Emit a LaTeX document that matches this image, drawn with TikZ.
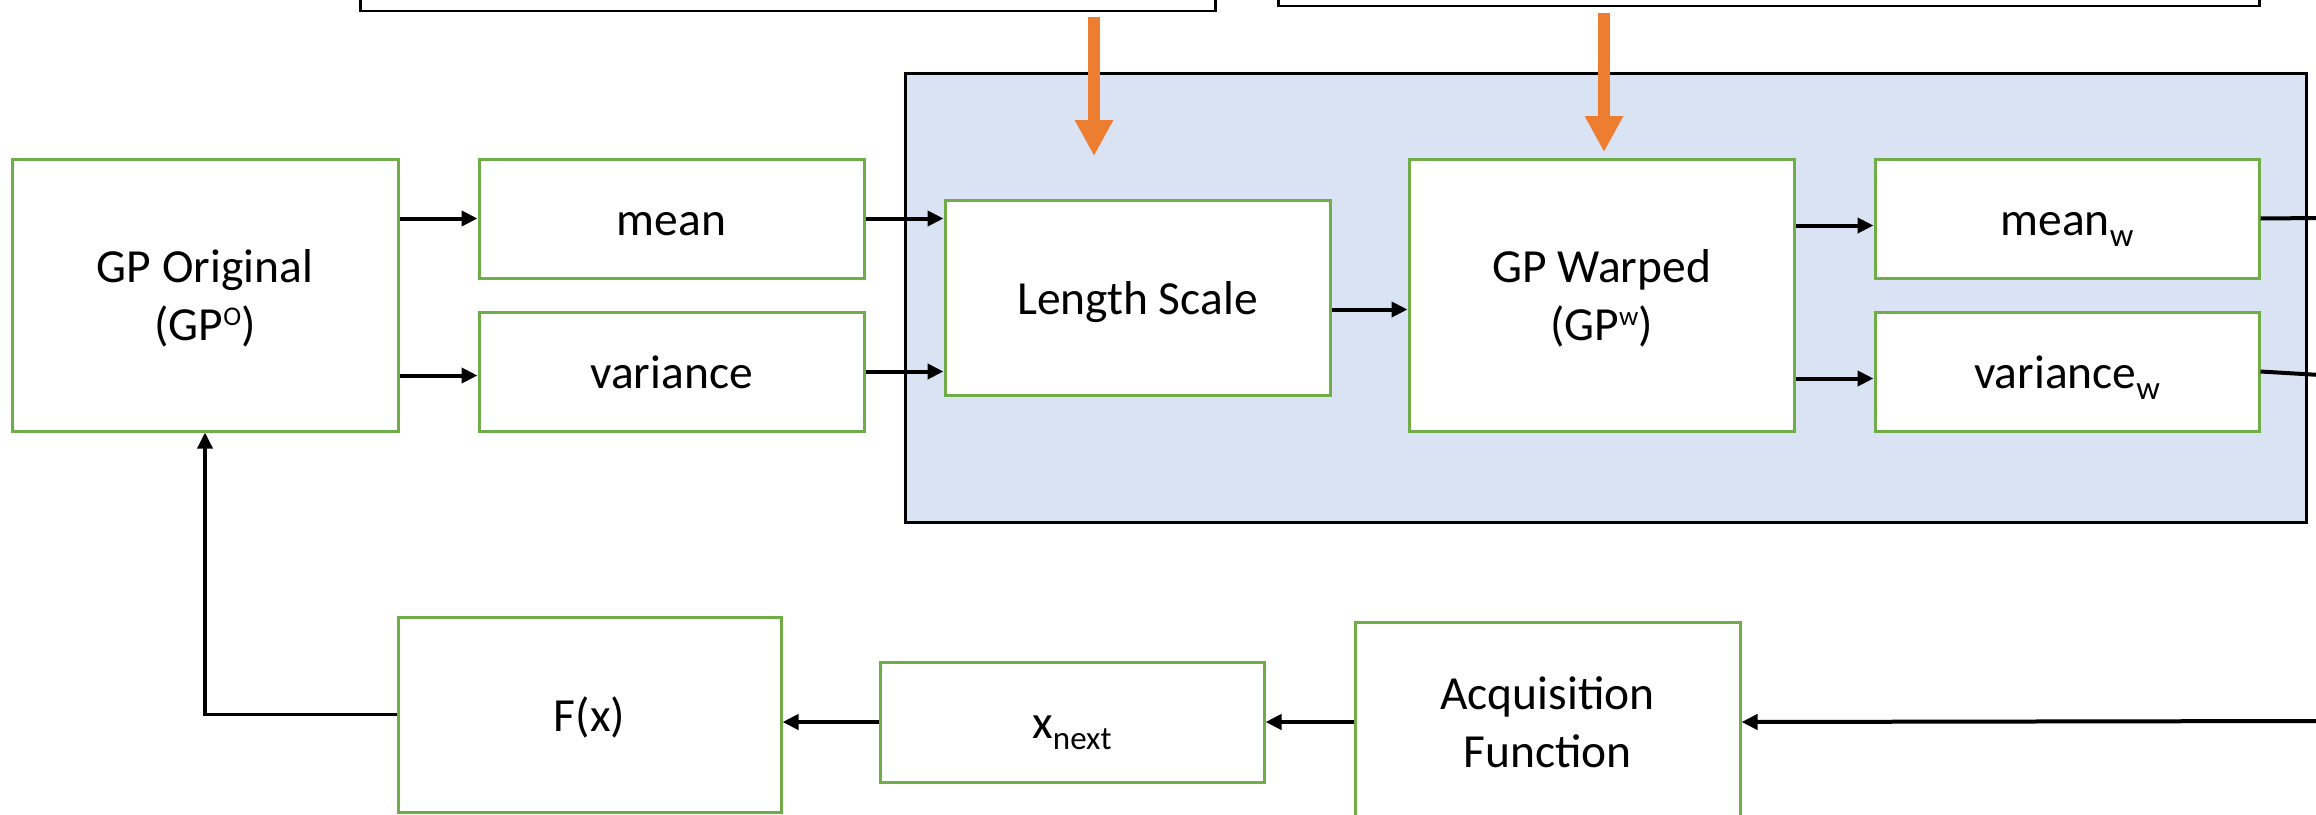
\documentclass[tikz,border=0pt]{standalone}
\usepackage{fontspec}
\setmainfont{Carlito}
\usetikzlibrary{arrows.meta}
\definecolor{boxgreen}{HTML}{70AD47}
\definecolor{panelblue}{HTML}{DAE3F3}
\definecolor{orangearr}{HTML}{ED7D31}
\newcommand\ppstrut{\rule[-0.26em]{0pt}{1.22em}}
\newcommand\psub[1]{\raisebox{-11pt}{\fontsize{33}{33}\selectfont #1}}
\newcommand\psup[1]{\raisebox{15pt}{\fontsize{27}{27}\selectfont #1}}
\begin{document}
\begin{tikzpicture}[x=1pt,y=-1pt,
  box/.style={draw=boxgreen, line width=3pt, fill=white, align=center, inner sep=0pt,
    font=\fontsize{47.5}{58}\selectfont},
  topbox/.style={draw=black, line width=2.5pt, fill=white, inner sep=0pt},
  panel/.style={draw=black, line width=3pt, fill=panelblue, inner sep=0pt},
  arr/.style={draw=black, line width=4pt, -{Triangle[length=16pt,width=15pt]}},
  plain/.style={draw=black, line width=4pt},
  oarr/.style={draw=orangearr, line width=12pt, -{Triangle[length=36pt,width=36pt]}}]
\useasboundingbox (0,0) rectangle (2316,814);
\clip (0,0) rectangle (2316,814);
% top boxes (cut off)
\node[topbox, minimum width=855pt, minimum height=120pt, anchor=south west] (ta) at (359,12) {};
\node[topbox, minimum width=981pt, minimum height=120pt, anchor=south west] (tb) at (1277,7) {};
% panel
\node[panel, minimum width=1401pt, minimum height=449pt, anchor=north west] (panel) at (904,72) {};
% boxes
\node[box, minimum width=386pt, minimum height=272pt] (gpo) at (205,295) {\ppstrut GP Original\\\ppstrut(GP\psup{O})};
\node[box, minimum width=385pt, minimum height=119pt] (mean) at (671.5,218.5) {\ppstrut mean};
\node[box, minimum width=385pt, minimum height=119pt] (var) at (671.5,371.5) {\ppstrut variance};
\node[box, minimum width=385pt, minimum height=195pt] (ls) at (1137.5,297.5) {\ppstrut Length Scale};
\node[box, minimum width=385pt, minimum height=272pt] (gpw) at (1601.5,295) {\ppstrut GP Warped\\\ppstrut(GP\psup{w})};
\node[box, minimum width=384pt, minimum height=119pt] (meanw) at (2067,218.5) {\ppstrut mean\psub{w}};
\node[box, minimum width=384pt, minimum height=119pt] (varw) at (2067,371.5) {\ppstrut variance\psub{w}};
\node[box, minimum width=383pt, minimum height=195pt] (fx) at (589.5,714.5) {\ppstrut F(x)};
\node[box, minimum width=384pt, minimum height=120pt] (xnext) at (1072,722) {\ppstrut x\psub{next}};
\node[box, minimum width=385pt, minimum height=200pt] (acq) at (1547.5,722) {\ppstrut Acquisition\\\ppstrut Function};
% orange arrows
\coordinate (oa1) at (1094,17);
\coordinate (oa2) at (1094,156);
\coordinate (ob1) at (1604,13);
\coordinate (ob2) at (1604,152);
\draw[oarr] (oa1) -- (oa2);
\draw[oarr] (ob1) -- (ob2);
% right edge coordinates
\coordinate (r1) at (2320,218);
\coordinate (r2) at (2320,375);
\coordinate (r3) at (2320,721);
% connectors
\draw[arr] (gpo.east |- mean.west) -- (mean.west);
\draw[arr] ([yshift=-4pt]gpo.east |- var.west) -- ([yshift=-4pt]var.west);
\draw[arr] (mean.east) -- (ls.west |- mean.east);
\draw[arr] (var.east) -- (ls.west |- var.east);
\draw[arr] ([yshift=-12pt]ls.east) -- ([yshift=-12pt]ls.east -| gpw.west);
\draw[arr] ([yshift=-7pt]gpw.east |- meanw.west) -- ([yshift=-7pt]meanw.west);
\draw[arr] ([yshift=-7pt]gpw.east |- varw.west) -- ([yshift=-7pt]varw.west);
\draw[plain] (meanw.east) -- (r1);
\draw[plain] (varw.east) -- (r2);
\draw[arr] (r3) -- (acq.east);
\draw[arr] (acq.west) -- (xnext.east);
\draw[arr] (xnext.west) -- (xnext.west -| fx.east);
\draw[arr, line width=3.5pt] (fx.west) -| (gpo.south);
\end{tikzpicture}
\end{document}
